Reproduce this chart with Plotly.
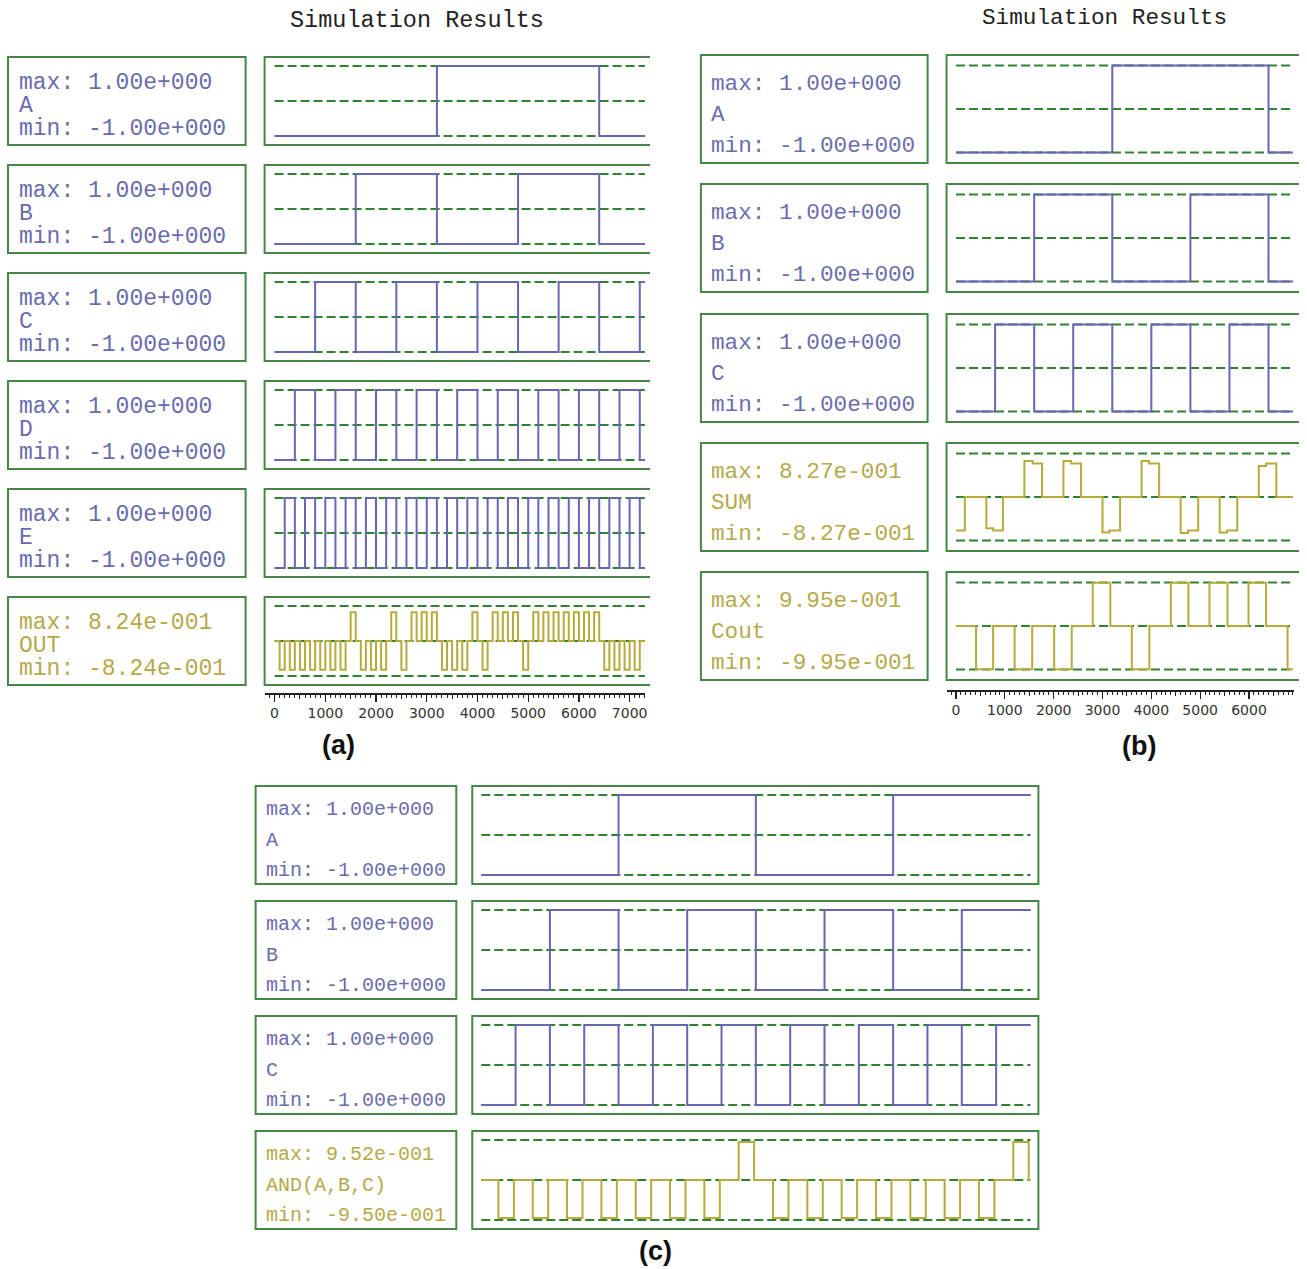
import plotly.graph_objects as go

W, H = 1307, 1269

# ======================= DATA =======================
# ---- panel (a): 5 inputs + OUT ----
a_end = 7300
a_A_edges = [3200, 6400]
a_B_edges = [1600, 3200, 4800, 6400]
a_C_edges = [800, 1600, 2400, 3200, 4000, 4800, 5600, 6400, 7200]
a_D_edges = [400, 800, 1200, 1600, 2000, 2400, 2800, 3200, 3600, 4000, 4400, 4800,
             5200, 5600, 6000, 6400, 6800, 7200]
a_E_edges = [200, 400, 600, 800, 1000, 1200, 1400, 1600, 1800, 2000, 2200, 2400,
             2600, 2800, 3000, 3200, 3400, 3600, 3800, 4000, 4200, 4400, 4600, 4800,
             5000, 5200, 5400, 5600, 5800, 6000, 6200, 6400, 6600, 6800, 7000, 7200]
a_out_start = [100, 300, 500, 700, 900, 1100, 1300, 1500, 1700, 1900, 2100, 2300,
               2500, 2700, 2900, 3100, 3300, 3500, 3700, 3900, 4100, 4300, 4500, 4700,
               4900, 5100, 5300, 5500, 5700, 5900, 6100, 6300, 6500, 6700, 6900, 7100]
a_out_end = [200, 400, 600, 800, 1000, 1200, 1400, 1600, 1800, 2000, 2200, 2400,
             2600, 2800, 3000, 3200, 3400, 3600, 3800, 4000, 4200, 4400, 4600, 4800,
             5000, 5200, 5400, 5600, 5800, 6000, 6200, 6400, 6600, 6800, 7000, 7200]
a_out_sign = [-1, -1, -1, -1, -1, -1, -1, 1, -1, -1, -1, 1, -1, 1, 1, 1, -1, -1,
              -1, 1, -1, 1, 1, 1, -1, 1, 1, 1, 1, 1, 1, 1, -1, -1, -1, -1]
a_out_max = 0.824

# ---- panel (b): full adder ----
b_end = 6900
b_A_edges = [3200, 6400]
b_B_edges = [1600, 3200, 4800, 6400]
b_C_edges = [800, 1600, 2400, 3200, 4000, 4800, 5600, 6400]
sum_t = [0, 180, 620, 760, 960, 1400, 1570, 1760, 2200, 2360, 2560, 3000, 3140, 3360,
         3800, 3950, 4160, 4600, 4750, 4960, 5400, 5550, 5760, 6200, 6350, 6560, 6900]
sum_v = [-0.77, 0, -0.72, -0.77, 0, 0.827, 0.77, 0, 0.827, 0.77, 0, -0.815, -0.77, 0,
         0.827, 0.77, 0, -0.827, -0.77, 0, -0.815, -0.77, 0, 0.71, 0.77, 0, 0]
cout_t = [0, 410, 760, 1200, 1560, 2010, 2370, 2800, 3160, 3600, 3960, 4400, 4760,
          5190, 5560, 5990, 6350, 6790, 6900]
cout_v = [0, -0.995, 0, -0.995, 0, -0.995, 0, 0.995, 0, -0.995, 0, 0.995, 0,
          0.995, 0, 0.995, 0, -0.995, -0.995]

# ---- panel (c): AND(A,B,C) ----
c_end = 12800
c_A_edges = [3200, 6400, 9600]
c_B_edges = [1600, 3200, 4800, 6400, 8000, 9600, 11200]
c_C_edges = [800, 1600, 2400, 3200, 4000, 4800, 5600, 6400, 7200, 8000, 8800, 9600,
             10400, 11200, 12000]
and_start = [400, 1200, 2000, 2800, 3600, 4400, 5200, 6000, 6800, 7600, 8400, 9200,
             10000, 10800, 11600, 12400]
and_end = [760, 1560, 2360, 3160, 3960, 4760, 5560, 6360, 7160, 7960, 8760, 9560,
           10360, 11160, 11960, 12760]
and_level = [-0.95, -0.95, -0.95, -0.95, -0.95, -0.95, -0.95, 0.952,
             -0.95, -0.95, -0.95, -0.95, -0.95, -0.95, -0.95, 0.952]

# ---- ruler ----
ruler_ticks = [0, 1000, 2000, 3000, 4000, 5000, 6000, 7000]
ruler_labels = ["0", "1000", "2000", "3000", "4000", "5000", "6000", "7000"]
ruler_mid_ticks = [500, 1500, 2500, 3500, 4500, 5500, 6500]

# ---- label texts ----
a_labels = [("1.00e+000", "A", "-1.00e+000"), ("1.00e+000", "B", "-1.00e+000"),
            ("1.00e+000", "C", "-1.00e+000"), ("1.00e+000", "D", "-1.00e+000"),
            ("1.00e+000", "E", "-1.00e+000"), ("8.24e-001", "OUT", "-8.24e-001")]
b_labels = [("1.00e+000", "A", "-1.00e+000"), ("1.00e+000", "B", "-1.00e+000"),
            ("1.00e+000", "C", "-1.00e+000"), ("8.27e-001", "SUM", "-8.27e-001"),
            ("9.95e-001", "Cout", "-9.95e-001")]
c_labels = [("1.00e+000", "A", "-1.00e+000"), ("1.00e+000", "B", "-1.00e+000"),
            ("1.00e+000", "C", "-1.00e+000"), ("9.52e-001", "AND(A,B,C)", "-9.50e-001")]

# ======================= STYLE =======================
BLUE = "#6666b4"
OLIVE = "#b6ab3a"
TXT_BLUE = "#6b6bad"
TXT_OLIVE = "#b5a94a"
GREEN_BOX = "#468746"
GREEN_DASH = "#2f822f"
MONO = "Liberation Mono, Courier New, monospace"


def square(edges, end):
    xs = [0] + list(edges) + [end]
    lv = -1
    ys = [lv]
    for _ in edges:
        lv = -lv
        ys.append(lv)
    ys.append(lv)
    return xs, ys


def pulses(starts, ends, levels, end):
    xs, ys = [0], [0]
    for s, e, l in zip(starts, ends, levels):
        xs += [s, e]
        ys += [l, 0]
    xs.append(end)
    ys.append(0)
    return xs, ys


fig = go.Figure()
layout = dict(width=W, height=H, margin=dict(l=0, r=0, t=0, b=0),
              paper_bgcolor="white", plot_bgcolor="rgba(0,0,0,0)", showlegend=False)
shapes = []
annotations = []
cnt = {"x": 0, "y": 0}


def new_axis(kind):
    cnt[kind] += 1
    n = cnt[kind]
    return (f"{kind}axis" if n == 1 else f"{kind}axis{n}", kind if n == 1 else f"{kind}{n}")


def px(x):
    return x / W


def py(y):
    return 1 - y / H


def add_panel(label_x0, label_x1, wave_x0, wave_x1, tops, h, dinset, zero_px, per1000,
              end, signals, labels, txt_offsets, txt_dx, fsize, dash, open_right):
    half = (h - 2 * dinset) / 2.0
    R = 1 + dinset / half
    xr = [(wave_x0 - zero_px) / per1000 * 1000, (wave_x1 - zero_px) / per1000 * 1000]
    for top, (xs, ys, col, tcol), (mx, nm, mn) in zip(tops, signals, labels):
        bot = top + h
        xn, xref = new_axis("x")
        yn, yref = new_axis("y")
        layout[xn] = dict(domain=[px(wave_x0), px(wave_x1)], range=xr, visible=False,
                          anchor=yref, fixedrange=True)
        layout[yn] = dict(domain=[py(bot), py(top)], range=[-R, R], visible=False,
                          anchor=xref, fixedrange=True)
        fig.add_trace(go.Scatter(x=[0, end, None, 0, end, None, 0, end],
                                 y=[1, 1, None, 0, 0, None, -1, -1],
                                 xaxis=xref, yaxis=yref, mode="lines", hoverinfo="skip",
                                 line=dict(color=GREEN_DASH, width=2.2, dash=dash)))
        fig.add_trace(go.Scatter(x=xs, y=ys, xaxis=xref, yaxis=yref, mode="lines",
                                 hoverinfo="skip",
                                 line=dict(color=col, width=2, shape="hv")))
        # wave box
        if open_right:
            shapes.append(dict(type="path", xref="paper", yref="paper",
                               path=f"M {px(wave_x1 + 5)},{py(top)} L {px(wave_x0)},{py(top)} "
                                    f"L {px(wave_x0)},{py(bot)} L {px(wave_x1 + 5)},{py(bot)}",
                               line=dict(color=GREEN_BOX, width=2)))
        else:
            shapes.append(dict(type="rect", xref="paper", yref="paper",
                               x0=px(wave_x0), x1=px(wave_x1), y0=py(bot), y1=py(top),
                               line=dict(color=GREEN_BOX, width=2)))
        # label box
        shapes.append(dict(type="rect", xref="paper", yref="paper",
                           x0=px(label_x0), x1=px(label_x1), y0=py(bot), y1=py(top),
                           line=dict(color=GREEN_BOX, width=2)))
        for txt, off in zip([f"max: {mx}", nm, f"min: {mn}"], txt_offsets):
            annotations.append(dict(x=px(label_x0 + txt_dx), y=py(top + off),
                                    xref="paper", yref="paper", xanchor="left",
                                    yanchor="middle", showarrow=False, text=txt,
                                    font=dict(family=MONO, size=fsize, color=tcol)))
    return xr


def add_ruler(wave_x0, wave_x1, xr, base_y):
    xn, xref = new_axis("x")
    yn, yref = new_axis("y")
    layout[yn] = dict(domain=[py(base_y), py(base_y - 1)], visible=False, range=[0, 1],
                      anchor=xref, fixedrange=True)
    layout[xn] = dict(domain=[px(wave_x0), px(wave_x1)], range=xr, anchor=yref,
                      side="bottom", showline=True, linecolor="#222", linewidth=1.5,
                      showgrid=False, zeroline=False, ticks="outside", tickmode="array",
                      tickvals=ruler_ticks, ticktext=ruler_labels, ticklen=7,
                      tickwidth=1.2, tickcolor="#222",
                      tickfont=dict(family="DejaVu Sans, Verdana, sans-serif", size=14,
                                    color="#333"),
                      minor=dict(ticks="outside", dtick=100, tick0=0, ticklen=3,
                                 tickwidth=1, tickcolor="#222", showgrid=False),
                      fixedrange=True)
    fig.add_trace(go.Scatter(x=[xr[0]], y=[0.5], xaxis=xref, yaxis=yref, mode="markers",
                             marker=dict(opacity=0), hoverinfo="skip"))
    xn2, xref2 = new_axis("x")
    layout[xn2] = dict(overlaying=xref, anchor=yref, side="bottom", range=xr,
                       showline=False, showgrid=False, zeroline=False, ticks="outside",
                       tickmode="array", tickvals=ruler_mid_ticks, ticklen=5,
                       tickwidth=1, tickcolor="#222", showticklabels=False,
                       fixedrange=True)
    fig.add_trace(go.Scatter(x=[xr[0]], y=[0.5], xaxis=xref2, yaxis=yref, mode="markers",
                             marker=dict(opacity=0), hoverinfo="skip"))


# ---------------- panel (a) ----------------
sig_a = []
for e in [a_A_edges, a_B_edges, a_C_edges, a_D_edges, a_E_edges]:
    xs, ys = square(e, a_end)
    sig_a.append((xs, ys, BLUE, TXT_BLUE))
xs, ys = pulses(a_out_start, a_out_end, [s * a_out_max for s in a_out_sign], a_end)
sig_a.append((xs, ys, OLIVE, TXT_OLIVE))
xr_a = add_panel(8, 246, 265, 646, [57, 165, 273, 381, 489, 597], 88, 9, 275, 50.8,
                 a_end, sig_a, a_labels, [26, 49, 72], 9, 23, "9px,4px", True)
add_ruler(265, 646, xr_a, 693)

# ---------------- panel (b) ----------------
sig_b = []
for e in [b_A_edges, b_B_edges, b_C_edges]:
    xs, ys = square(e, b_end)
    sig_b.append((xs, ys, BLUE, TXT_BLUE))
sig_b.append((sum_t, sum_v, OLIVE, TXT_OLIVE))
sig_b.append((cout_t, cout_v, OLIVE, TXT_OLIVE))
xr_b = add_panel(702, 929, 948, 1296, [55, 184, 314, 443, 572], 108, 10.5, 957.5, 48.9,
                 b_end, sig_b, b_labels, [29, 60, 91], 8, 22.7, "9px,4px", True)
add_ruler(948, 1296, xr_b, 690)

# ---------------- panel (c) ----------------
sig_c = []
for e in [c_A_edges, c_B_edges, c_C_edges]:
    xs, ys = square(e, c_end)
    sig_c.append((xs, ys, BLUE, TXT_BLUE))
xs, ys = pulses(and_start, and_end, and_level, c_end)
sig_c.append((xs, ys, OLIVE, TXT_OLIVE))
add_panel(256, 457, 473, 1040, [786, 901, 1016, 1131], 98, 9, 482, 42.97,
          c_end, sig_c, c_labels, [23, 54, 84], 8, 20, "9px,4px", False)

# ---------------- titles / panel letters ----------------
annotations.append(dict(x=px(418), y=py(20), xref="paper", yref="paper", showarrow=False,
                        text="Simulation Results", xanchor="center", yanchor="middle",
                        font=dict(family=MONO, size=23.5, color="#222")))
annotations.append(dict(x=px(1106), y=py(18), xref="paper", yref="paper", showarrow=False,
                        text="Simulation Results", xanchor="center", yanchor="middle",
                        font=dict(family=MONO, size=22.7, color="#222")))
for t, x, y in [("(a)", 339, 745), ("(b)", 1141, 746), ("(c)", 657, 1251)]:
    annotations.append(dict(x=px(x), y=py(y), xref="paper", yref="paper", showarrow=False,
                            text=f"<b>{t}</b>", xanchor="center", yanchor="middle",
                            font=dict(family="Liberation Sans, Arial, sans-serif", size=27,
                                      color="#111")))

layout["shapes"] = shapes
layout["annotations"] = annotations
fig.update_layout(**layout)
fig.write_html("out.html", config={"displayModeBar": False, "staticPlot": True},
               post_script="document.body.style.margin='0px';document.body.style.overflow='hidden';")
